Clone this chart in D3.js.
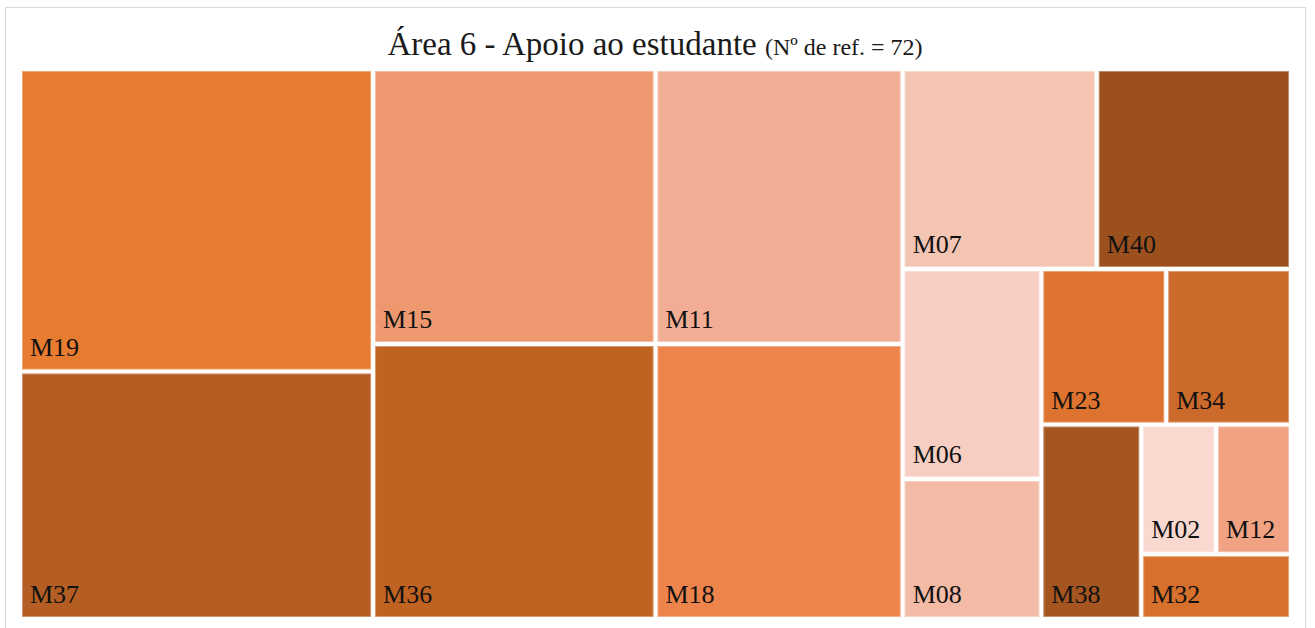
<!DOCTYPE html>
<html>
<head>
<meta charset="utf-8">
<script src="https://cdn.jsdelivr.net/npm/d3@7"></script>
<style>
  body { margin: 0; background: #fff; }
  text { font-family: "Liberation Serif", "Times New Roman", serif; }
</style>
</head>
<body>
<script>
const w = 1315,
  h = 628;

// data (number of references per measure)
const names = ['M19', 'M37', 'M15', 'M36', 'M11', 'M18', 'M07', 'M40', 'M06', 'M08', 'M23', 'M34', 'M38', 'M02', 'M12', 'M32'];
const counts = [11, 9, 8, 8, 7, 7, 4, 4, 3, 2, 2, 2, 2, 1, 1, 1];
const colors = ['#e77b2f', '#b45e23', '#ee9870', '#bf6222', '#f1ae94', '#ed844b', '#f4c5b3', '#9c501e',
  '#f6cfc2', '#f3baa6', '#dd732e', '#cb6a2b', '#a55520', '#f8d8cf', '#f0a283', '#d6702c'];

const titleMain = 'Área 6 - Apoio ao estudante';
const titleSub = '(Nº de ref. = 72)';

const box = { x: 20, y: 69, w: 1271, h: 550 };
const gap = 2;

const svg = d3.select('body')
  .append('svg')
  .attr('width', w)
  .attr('height', h);

// outer frame
svg.append('rect')
  .attr('x', 5.5)
  .attr('y', 7.5)
  .attr('width', 1300)
  .attr('height', 640)
  .attr('fill', 'none')
  .attr('stroke', '#d9d9d9')
  .attr('stroke-width', 1);

const title = svg.append('text')
  .attr('x', 655)
  .attr('y', 55)
  .attr('text-anchor', 'middle')
  .attr('fill', '#1a1a1a');
title.append('tspan').attr('font-size', '33px').text(titleMain + ' ');
title.append('tspan').attr('font-size', '24px').text(titleSub);

const items = names.map((n, i) => ({ name: n, value: counts[i], color: colors[i] }));

const root = d3.hierarchy({ children: items })
  .sum(d => d.value || 0)
  .sort((a, b) => b.value - a.value);

d3.treemap()
  .tile(d3.treemapSquarify.ratio(1))
  .size([box.w, box.h])(root);

const cell = svg.append('g')
  .attr('transform', `translate(${box.x}, ${box.y})`)
  .selectAll('g')
  .data(root.leaves())
  .enter()
  .append('g');

cell.append('rect')
  .attr('x', d => d.x0 + gap)
  .attr('y', d => d.y0 + gap)
  .attr('width', d => d.x1 - d.x0 - gap * 2)
  .attr('height', d => d.y1 - d.y0 - gap * 2)
  .attr('fill', d => d.data.color);

cell.append('rect')
  .attr('x', d => d.x0 + gap + 0.5)
  .attr('y', d => d.y0 + gap + 0.5)
  .attr('width', d => d.x1 - d.x0 - gap * 2 - 1)
  .attr('height', d => d.y1 - d.y0 - gap * 2 - 1)
  .attr('fill', 'none')
  .attr('stroke', 'rgba(255,255,255,0.35)')
  .attr('stroke-width', 1);

cell.append('text')
  .attr('x', d => d.x0 + 10)
  .attr('y', d => d.y1 - 16)
  .attr('font-size', '26px')
  .attr('fill', '#111')
  .text(d => d.data.name);
</script>
</body>
</html>
